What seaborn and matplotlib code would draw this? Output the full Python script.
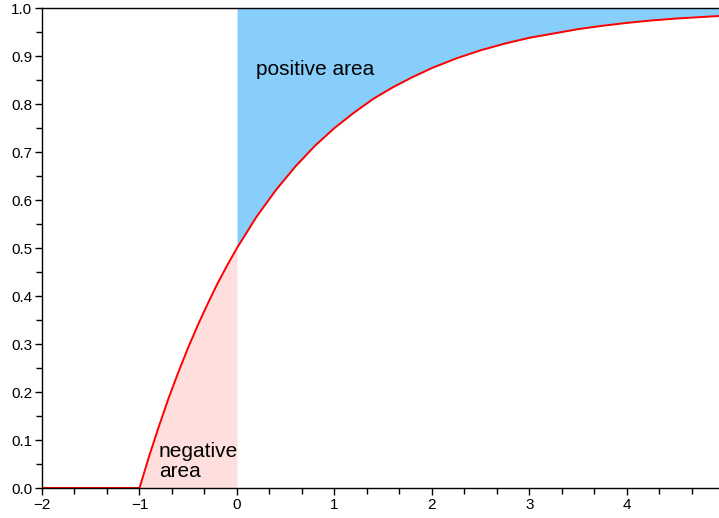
import matplotlib
matplotlib.use("Agg")
import matplotlib.pyplot as plt
from matplotlib.ticker import MultipleLocator
import numpy as np
import pandas as pd
import seaborn as sns

# Curve samples (x, cumulative value)
x_vals = [-2.0, -1.0, -0.9, -0.8, -0.7, -0.6, -0.5, -0.4, -0.3, -0.2, -0.1, 0.0,
          0.2, 0.4, 0.6, 0.8, 1.0, 1.2, 1.4, 1.6, 1.8, 2.0, 2.25, 2.5, 2.75,
          3.0, 3.25, 3.5, 3.75, 4.0, 4.25, 4.5, 4.75, 5.0]
y_vals = [0.0, 0.0, 0.067, 0.129, 0.188, 0.242, 0.293, 0.340, 0.384, 0.426, 0.464, 0.5,
          0.565, 0.621, 0.670, 0.713, 0.75, 0.782, 0.811, 0.835, 0.856, 0.875, 0.895, 0.912, 0.926,
          0.938, 0.947, 0.956, 0.963, 0.969, 0.974, 0.978, 0.981, 0.984]

x_ticks = [-2, -1, 0, 1, 2, 3, 4]
y_ticks = [0.0, 0.1, 0.2, 0.3, 0.4, 0.5, 0.6, 0.7, 0.8, 0.9, 1.0]
labels = ["positive area", "negative\narea"]

sns.set_theme(style="ticks")
plt.rcParams["font.family"] = ["Liberation Sans", "DejaVu Sans"]

df = pd.DataFrame({"x": x_vals, "y": y_vals})

fig = plt.figure(figsize=(7.19, 5.18), dpi=100)
ax = fig.add_axes([42 / 719, 30 / 518, 677 / 719, 480 / 518])

pos = df[df["x"] >= 0]
neg = df[(df["x"] >= -1) & (df["x"] <= 0)]
ax.fill_between(pos["x"], pos["y"], 1.0, color="#87cefa", linewidth=0, zorder=1)
ax.fill_between(neg["x"], 0.0, neg["y"], color="#ffdede", linewidth=0, zorder=1)

sns.lineplot(data=df, x="x", y="y", color="red", linewidth=1.4, ax=ax, zorder=3)

ax.text(0.19, 0.871, labels[0], fontsize=15, ha="left", va="center", color="black")
ax.text(-0.80, 0.055, labels[1], fontsize=15, ha="left", va="center",
        color="black", linespacing=1.05)

ax.set_xlim(-2, 4.944)
ax.set_ylim(0, 1.0)
ax.set_xticks(x_ticks)
ax.set_yticks(y_ticks)
ax.set_yticklabels([f"{v:.1f}" for v in y_ticks])
ax.xaxis.set_minor_locator(MultipleLocator(1 / 3))
ax.yaxis.set_minor_locator(MultipleLocator(0.05))
ax.tick_params(which="major", direction="out", length=5, width=1.0, color="black",
               labelsize=11, labelcolor="black", pad=2)
ax.tick_params(which="minor", direction="out", length=4, width=1.0, color="black")
ax.set_xlabel("")
ax.set_ylabel("")

for side in ("left", "bottom", "top"):
    ax.spines[side].set_visible(True)
    ax.spines[side].set_color("black")
    ax.spines[side].set_linewidth(1.0)
    ax.spines[side].set_zorder(5)
ax.spines["right"].set_visible(False)

fig.savefig("out.png", dpi=100)
